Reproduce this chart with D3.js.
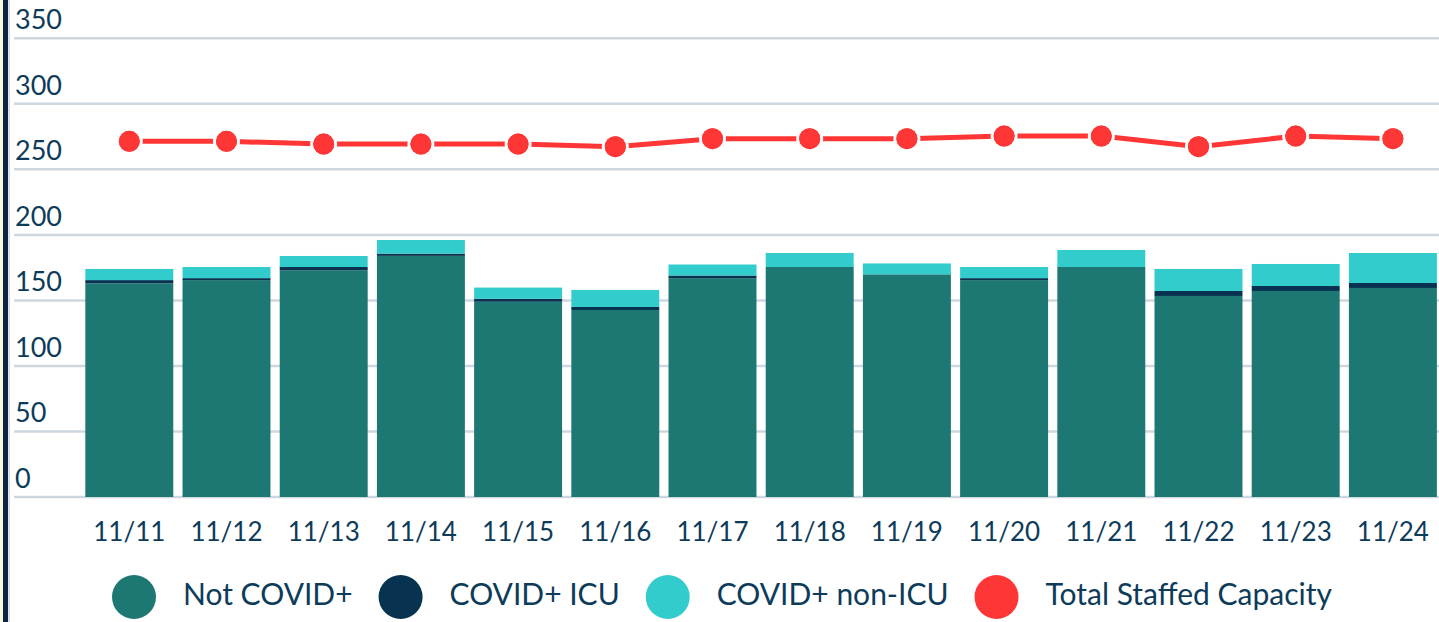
<!DOCTYPE html>
<html><head><meta charset="utf-8">
<script src="https://cdn.jsdelivr.net/npm/d3@7"></script>
<style>html,body{margin:0;padding:0;background:#fff;overflow:hidden}svg{display:block}</style>
</head><body><svg id="c" width="1439" height="622"></svg>
<script>
const categories = ["11/11","11/12","11/13","11/14","11/15","11/16","11/17","11/18","11/19","11/20","11/21","11/22","11/23","11/24"];
const notCovid   = [163, 165.5, 173, 184, 149, 142.7, 167, 175.5, 169.4, 165.5, 175.5, 153.4, 157.2, 159.5];
const covidICU   = [2.5, 1.5, 2.5, 1.7, 2.3, 2.3, 2, 0, 0.4, 1.5, 0, 3.8, 3.8, 3.8];
const covidNonICU= [8.5, 8.5, 8.4, 10.4, 8.5, 13, 8.4, 10.7, 8.4, 8.5, 13, 16.8, 16.8, 22.9];
const capacity   = [271.4, 271.4, 269.3, 269.3, 269.3, 267.3, 273.4, 273.4, 273.4, 275.4, 275.4, 267.3, 275.4, 273.4];
const yTicks = [0, 50, 100, 150, 200, 250, 300, 350];
const seriesNames = ["Not COVID+", "COVID+ ICU", "COVID+ non-ICU", "Total Staffed Capacity"];
const colors = ["#1d7874", "#073350", "#33cccc", "#ff3636"];

const svg = d3.select("#c");
const font = "Lato, 'Open Sans', sans-serif";
const textColor = "#0d3b5a";

// left border
svg.append("rect").attr("x",0).attr("y",0).attr("width",3).attr("height",622).attr("fill","#fdf9dc");
svg.append("rect").attr("x",3).attr("y",0).attr("width",5).attr("height",622).attr("fill","#0b2545");
svg.append("rect").attr("x",8.5).attr("y",0).attr("width",1.2).attr("height",622).attr("fill","#c5ccd6");

const y = d3.scaleLinear().domain([0,350]).range([497,38.3]);
const x = d3.scaleBand().domain(categories).range([80.7,1441.5]).paddingInner(0.095).paddingOuter(0.0475);

// grid + ticks
const g = svg.append("g");
yTicks.forEach(t=>{
  g.append("line").attr("x1",14).attr("x2",1439).attr("y1",y(t)).attr("y2",y(t))
   .attr("stroke","#cfd7de").attr("stroke-width",2.5);
  g.append("text").attr("x",15).attr("y",y(t)-9).text(t)
   .attr("font-family",font).attr("font-size",27).attr("fill",textColor);
});

// stacked bars
const rows = categories.map((c,i)=>({cat:c, a:notCovid[i], b:covidICU[i], c2:covidNonICU[i]}));
const stack = d3.stack().keys(["a","b","c2"])(rows);
stack.forEach((layer,li)=>{
  svg.append("g").selectAll("rect").data(layer).join("rect")
    .attr("x",d=>x(d.data.cat)).attr("width",x.bandwidth())
    .attr("y",d=>y(d[1])).attr("height",d=>Math.max(0,y(d[0])-y(d[1])))
    .attr("fill",colors[li]);
});

// x labels
svg.append("g").selectAll("text").data(categories).join("text")
  .attr("x",d=>x(d)+x.bandwidth()/2).attr("y",541).attr("text-anchor","middle")
  .attr("font-family",font).attr("font-size",26).attr("fill",textColor).text(d=>d);

// capacity line
const cx = i => x(categories[i])+x.bandwidth()/2;
const line = d3.line().x((d,i)=>cx(i)).y(d=>y(d));
svg.append("path").datum(capacity).attr("d",line).attr("fill","none")
  .attr("stroke",colors[3]).attr("stroke-width",5);
svg.append("g").selectAll("circle").data(capacity).join("circle")
  .attr("cx",(d,i)=>cx(i)).attr("cy",d=>y(d)).attr("r",10.5)
  .attr("fill",colors[3]).attr("stroke","#fff").attr("stroke-width",6).attr("paint-order","stroke");
svg.append("g").selectAll("circle").data(capacity).join("circle")
  .attr("cx",(d,i)=>cx(i)).attr("cy",d=>y(d)).attr("r",10.5)
  .attr("fill",colors[3]);

// legend
const leg = svg.append("g");
let lx = 112;
seriesNames.forEach((n,i)=>{
  leg.append("circle").attr("cx",lx+22).attr("cy",597).attr("r",22).attr("fill",colors[i]);
  const t = leg.append("text").attr("x",lx+71).attr("y",605).text(n)
    .attr("font-family",font).attr("font-size",30).attr("fill",textColor);
  const w = t.node().getComputedTextLength();
  lx = lx + 71 + w + 26;
});
</script></body></html>
